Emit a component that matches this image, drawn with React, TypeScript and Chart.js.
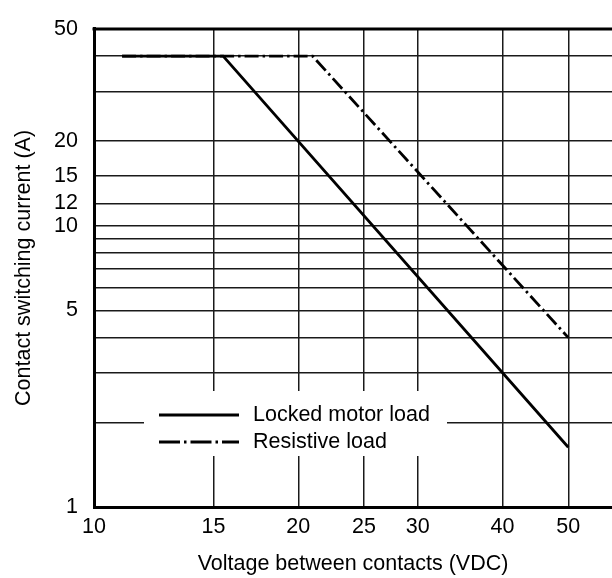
import React, { useEffect, useRef } from "react";
import { Chart, registerables } from "chart.js";

Chart.register(...registerables);

// Data (log-log chart)
const motorVoltage = [11, 15.5, 50];
const motorCurrent = [40, 40, 1.63];
const resistiveVoltage = [11, 21, 50];
const resistiveCurrent = [40, 40, 4];

const seriesLabels = ["Locked motor load", "Resistive load"];

const xGridValues = [10, 15, 20, 25, 30, 40, 50];
const xLabelValues = [10, 15, 20, 25, 30, 40, 50];
const yGridValues = [1, 2, 3, 4, 5, 6, 7, 8, 9, 10, 12, 15, 20, 30, 40, 50];
const yLabelValues = [1, 5, 10, 12, 15, 20, 50];

const FONT_FAMILY = "'Liberation Sans', Arial, Helvetica, sans-serif";
const FONT_SIZE = 21.5;
const DASH_DOT = [14, 4, 2.5, 4];
const LEGEND_DASH_DOT = [21, 4, 2.5, 4];

const legendAndBorderPlugin = {
  id: "legendAndBorder",
  beforeDatasetsDraw(chart: any) {
    const { ctx, chartArea } = chart;
    ctx.save();
    ctx.fillStyle = "#ffffff";
    ctx.fillRect(chartArea.left + 50, chartArea.bottom - 116, 303, 65);
    ctx.restore();
  },
  afterDatasetsDraw(chart: any) {
    const { ctx, chartArea } = chart;
    ctx.save();
    // top border
    ctx.strokeStyle = "#000";
    ctx.lineWidth = 3;
    ctx.beginPath();
    ctx.moveTo(chartArea.left - 1.5, chartArea.top);
    ctx.lineTo(chart.width, chartArea.top);
    ctx.stroke();

    // legend
    const rows = [chartArea.bottom - 92, chartArea.bottom - 65];
    chart.data.datasets.forEach((ds: any, i: number) => {
      const y = rows[i];
      ctx.strokeStyle = ds.borderColor;
      ctx.lineWidth = ds.borderWidth;
      ctx.setLineDash(ds.borderDash ? LEGEND_DASH_DOT : []);
      ctx.beginPath();
      ctx.moveTo(chartArea.left + 65, y);
      ctx.lineTo(chartArea.left + 145, y);
      ctx.stroke();
      ctx.setLineDash([]);
      ctx.fillStyle = "#000";
      ctx.font = `${FONT_SIZE}px ${FONT_FAMILY}`;
      ctx.textAlign = "left";
      ctx.textBaseline = "middle";
      ctx.fillText(ds.label, chartArea.left + 159, y);
    });
    ctx.restore();
  },
};

export default function App() {
  const canvasRef = useRef<HTMLCanvasElement | null>(null);

  useEffect(() => {
    if (!canvasRef.current) return;
    const font = { family: FONT_FAMILY, size: FONT_SIZE };
    const chart = new Chart(canvasRef.current, {
      type: "scatter",
      data: {
        datasets: [
          {
            label: seriesLabels[0],
            data: motorVoltage.map((v, i) => ({ x: v, y: motorCurrent[i] })),
            showLine: true,
            borderColor: "#000",
            borderWidth: 2.8,
            pointRadius: 0,
            fill: false,
          },
          {
            label: seriesLabels[1],
            data: resistiveVoltage.map((v, i) => ({ x: v, y: resistiveCurrent[i] })),
            showLine: true,
            borderColor: "#000",
            borderWidth: 2.8,
            borderDash: DASH_DOT,
            pointRadius: 0,
            fill: false,
          },
        ],
      },
      options: {
        animation: false,
        responsive: false,
        devicePixelRatio: 1,
        layout: { padding: { top: 20, right: 0, left: 0, bottom: 0 } },
        plugins: {
          legend: { display: false },
          tooltip: { enabled: false },
        },
        scales: {
          x: {
            type: "logarithmic",
            min: 10,
            max: 58,
            afterBuildTicks: (scale: any) => {
              scale.ticks = xGridValues.map((v) => ({ value: v }));
            },
            afterFit: (scale: any) => {
              scale.height = 71;
            },
            ticks: {
              autoSkip: false,
              maxRotation: 0,
              padding: 7,
              color: "#000",
              font,
              callback: (v: any) => (xLabelValues.includes(Number(v)) ? String(v) : ""),
            },
            grid: { color: "#1a1a1a", lineWidth: 1.5, drawTicks: false },
            border: { display: true, color: "#000", width: 3 },
            title: {
              display: true,
              text: "Voltage between contacts (VDC)",
              color: "#000",
              font,
              padding: { top: 0, bottom: 1 },
            },
          },
          y: {
            type: "logarithmic",
            min: 1,
            max: 50,
            afterBuildTicks: (scale: any) => {
              scale.ticks = yGridValues.map((v) => ({ value: v }));
            },
            afterFit: (scale: any) => {
              scale.width = 94;
            },
            ticks: {
              autoSkip: false,
              padding: 16,
              color: "#000",
              font,
              callback: (v: any) => (yLabelValues.includes(Number(v)) ? String(v) : ""),
            },
            grid: { color: "#1a1a1a", lineWidth: 1.5, drawTicks: false },
            border: { display: true, color: "#000", width: 3 },
            title: {
              display: true,
              text: "Contact switching current (A)",
              color: "#000",
              font,
              padding: { top: 11, bottom: 0 },
            },
          },
        },
      },
      plugins: [legendAndBorderPlugin],
    } as any);
    return () => chart.destroy();
  }, []);

  return (
    <div style={{ position: "absolute", left: 0, top: 0, width: 612, height: 578, background: "#fff" }}>
      <canvas ref={canvasRef} width={612} height={578} style={{ width: 612, height: 578, display: "block" }} />
    </div>
  );
}
